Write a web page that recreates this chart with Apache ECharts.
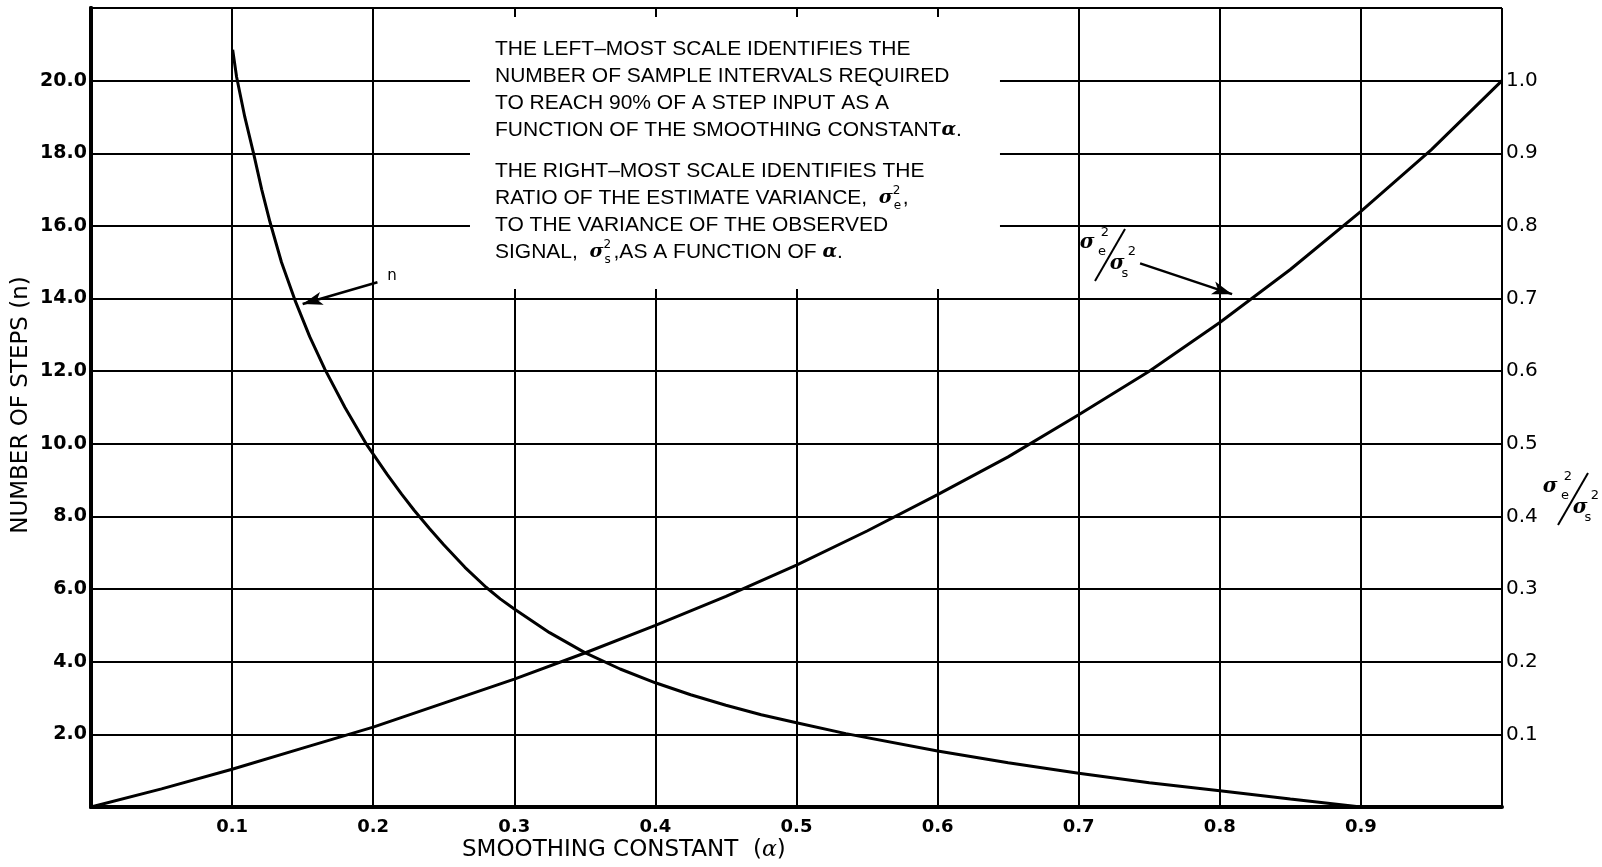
<!DOCTYPE html>
<html>
<head>
<meta charset="utf-8">
<script src="https://cdn.jsdelivr.net/npm/echarts@6/dist/echarts.min.js"></script>
<style>
  html, body { margin: 0; padding: 0; background: #fff; }
  #chart { width: 1602px; height: 867px; }
</style>
</head>
<body>
<div id="chart"></div>
<script>
// curva n: pasos necesarios vs alfa (escala izquierda)
const alphaN = [0.1004, 0.1032, 0.109, 0.1155, 0.121, 0.1269, 0.135, 0.1446, 0.155, 0.1658, 0.18, 0.195, 0.21, 0.22, 0.229, 0.24, 0.25, 0.265, 0.28, 0.29, 0.3, 0.325, 0.35, 0.375, 0.4, 0.425, 0.45, 0.475, 0.5, 0.535, 0.6, 0.65, 0.7, 0.75, 0.8, 0.85, 0.9];
const stepsN = [20.85, 20.1, 19.0, 17.95, 17.0, 16.1, 15.0, 13.95, 12.95, 12.05, 11.0, 10.0, 9.15, 8.62, 8.17, 7.66, 7.22, 6.6, 6.05, 5.73, 5.45, 4.8, 4.25, 3.8, 3.42, 3.09, 2.8, 2.54, 2.32, 2.02, 1.54, 1.22, 0.93, 0.67, 0.45, 0.22, 0.0];

// curva de varianza relativa (escala derecha)
const alphaRatio = [0, 0.05, 0.1, 0.15, 0.2, 0.25, 0.3, 0.35, 0.4, 0.45, 0.5, 0.55, 0.6, 0.65, 0.7, 0.75, 0.8, 0.85, 0.9, 0.95, 1.0];
const varRatio = [0, 0.025, 0.052, 0.081, 0.110, 0.143, 0.176, 0.212, 0.250, 0.290, 0.333, 0.380, 0.430, 0.482, 0.540, 0.600, 0.667, 0.740, 0.820, 0.905, 1.0];

// recuadro de texto (en unidades de los ejes)
const boxX = [0.2686, 0.6442];
const boxY = [21.75, 14.26];

const chart = echarts.init(document.getElementById('chart'));

const nData = alphaN.map((a, i) => [a, stepsN[i]]);
const rData = alphaRatio.map((a, i) => [a, varRatio[i]]);

const black = '#000';
const labelFont = 'DejaVu Sans';

function sigmaRatio(x, y) {
    const t = (dx, dy, s) => ({
        type: 'text', x: dx, y: dy,
        style: { text: s, font: (s === 'σ' ? 'italic bold 20px "DejaVu Serif"' : '13px "DejaVu Sans"'), fill: black, align: 'center', verticalAlign: 'middle' }
    });
    return {
        type: 'group', x: x, y: y, z: 100,
        children: [
            t(0, 0, 'σ'), t(18, -10, '2'), t(15, 9, 'e'),
            { type: 'line', shape: { x1: 38, y1: -14, x2: 8, y2: 38 }, style: { stroke: black, lineWidth: 2 } },
            t(30, 21, 'σ'), t(45, 9, '2'), t(38, 31, 's')
        ]
    };
}

const richStyles = {
    g: { fontFamily: 'DejaVu Serif', fontStyle: 'italic', fontWeight: 'bold', fontSize: 19, lineHeight: 27 },
    sup: { fontFamily: 'DejaVu Sans', fontSize: 12, lineHeight: 14, verticalAlign: 'top', width: 1 },
    sub: { fontFamily: 'DejaVu Sans', fontSize: 12, lineHeight: 14, verticalAlign: 'bottom', width: 9 }
};

const option = {
    animation: false,
    backgroundColor: '#fff',
    grid: { left: 91, right: 100, top: 8, bottom: 60 },
    xAxis: [{
        type: 'value', min: 0, max: 1, interval: 0.1,
        axisLine: { show: true, lineStyle: { color: black, width: 4 } },
        axisTick: { show: false },
        axisLabel: {
            margin: 11, color: black, fontFamily: labelFont, fontWeight: 'bold', fontSize: 18,
            formatter: v => (v > 0.01 && v < 0.99) ? v.toFixed(1) : ''
        },
        splitLine: { show: true, lineStyle: { color: black, width: 2 } }
    }, {
        type: 'value', position: 'top', min: 0, max: 1, interval: 0.1, z: 10,
        axisLine: { show: true, lineStyle: { color: black, width: 2 } },
        axisTick: { show: false },
        axisLabel: { show: false },
        splitLine: { show: false }
    }],
    yAxis: [{
        type: 'value', min: 0, max: 22, interval: 2,
        axisLine: { show: true, lineStyle: { color: black, width: 4 } },
        axisTick: { show: false },
        axisLabel: {
            margin: 4, color: black, fontFamily: labelFont, fontWeight: 'bold', fontSize: 19,
            formatter: v => (v > 0 && v < 21) ? v.toFixed(1) : ''
        },
        splitLine: { show: true, lineStyle: { color: black, width: 2 } }
    }, {
        type: 'value', min: 0, max: 1.1, interval: 0.1, position: 'right',
        axisLine: { show: true, lineStyle: { color: black, width: 4 } },
        axisTick: { show: false },
        axisLabel: {
            margin: 4, color: black, fontFamily: labelFont, fontSize: 20,
            formatter: v => (v > 0.01 && v < 1.05) ? v.toFixed(1) : ''
        },
        splitLine: { show: false }
    }],
    series: [{
        name: 'n',
        type: 'line',
        xAxisIndex: 0, yAxisIndex: 0,
        data: nData,
        showSymbol: false,
        smooth: false,
        lineStyle: { color: black, width: 3 },
        markArea: {
            silent: true,
            itemStyle: { color: '#fff' },
            data: [[{ coord: [boxX[0], boxY[0]] }, { coord: [boxX[1], boxY[1]] }]]
        },
        markLine: {
            silent: true,
            symbol: ['none', 'arrow'],
            symbolSize: [10, 20],
            label: { show: false },
            lineStyle: { color: black, width: 2.5, type: 'solid' },
            data: [[{ coord: [0.203, 14.45] }, { coord: [0.150, 13.85] }]]
        }
    }, {
        name: 'ratio',
        type: 'line',
        xAxisIndex: 0, yAxisIndex: 1,
        data: rData,
        showSymbol: false,
        smooth: false,
        lineStyle: { color: black, width: 3 },
        markLine: {
            silent: true,
            symbol: ['none', 'arrow'],
            symbolSize: [10, 20],
            label: { show: false },
            lineStyle: { color: black, width: 2.5, type: 'solid' },
            data: [[{ coord: [0.7435, 0.7485] }, { coord: [0.8087, 0.706] }]]
        }
    }],
    graphic: [
        {
            type: 'text', left: 495, top: 36, z: 100,
            style: {
                text: 'THE LEFT–MOST SCALE IDENTIFIES THE\nNUMBER OF SAMPLE INTERVALS REQUIRED\nTO REACH 90% OF A STEP INPUT AS A\nFUNCTION OF THE SMOOTHING CONSTANT{g|α}.',
                font: '21px "Liberation Sans"', lineHeight: 27, fill: black,
                rich: richStyles
            }
        },
        {
            type: 'text', left: 495, top: 158, z: 100,
            style: {
                text: 'THE RIGHT–MOST SCALE IDENTIFIES THE\nRATIO OF THE ESTIMATE VARIANCE,  {g|σ}{sup|2}{sub|e},\nTO THE VARIANCE OF THE OBSERVED\nSIGNAL,  {g|σ}{sup|2}{sub|s},AS A FUNCTION OF {g|α}.',
                font: '21px "Liberation Sans"', lineHeight: 27, fill: black,
                rich: richStyles
            }
        },
        {
            type: 'text', x: 392, y: 276, z: 100,
            style: { text: 'n', font: '15px "DejaVu Sans"', fill: black, align: 'center', verticalAlign: 'middle' }
        },
        sigmaRatio(1087, 243),
        sigmaRatio(1550, 487),
        {
            type: 'text', x: 462, y: 850, z: 100,
            style: { text: 'SMOOTHING CONSTANT  ({g|α})', font: '23px "DejaVu Sans"', fill: black, verticalAlign: 'middle', rich: { g: { fontFamily: 'DejaVu Serif', fontStyle: 'italic', fontSize: 22 } } }
        },
        {
            type: 'text', x: 21, y: 405, rotation: Math.PI / 2, z: 100,
            style: { text: 'NUMBER OF STEPS (n)', font: '23px "DejaVu Sans"', fill: black, align: 'center', verticalAlign: 'middle' }
        }
    ]
};

chart.setOption(option);
</script>
</body>
</html>
